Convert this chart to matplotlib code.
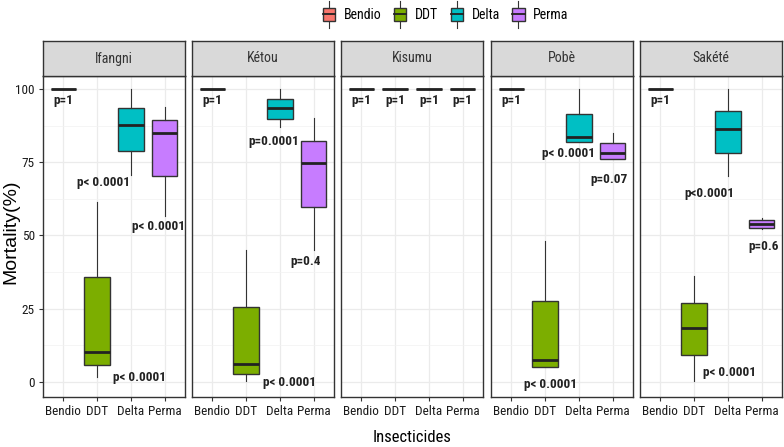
import numpy as np
import matplotlib.pyplot as plt
from matplotlib.patches import Rectangle
from matplotlib.lines import Line2D
from matplotlib.legend_handler import HandlerBase

# data
sites = ['Ifangni', 'Kétou', 'Kisumu', 'Pobè', 'Sakété']
insecticides = ['Bendio', 'DDT', 'Delta', 'Perma']
colors = ['#F8766D', '#7CAE00', '#00BFC4', '#C77CFF']

# five-number summaries per site, order Bendio, DDT, Delta, Perma
whislo = {'Ifangni': [100, 1.8, 70.6, 56.7],
          'Kétou':   [100, 0.4, 86.9, 45.0],
          'Kisumu':  [100, 100, 100, 100],
          'Pobè':    [100, 5.0, 81.8, 76.0],
          'Sakété':  [100, 0.4, 70.4, 52.2]}
q1 = {'Ifangni': [100, 5.8, 78.9, 70.4],
      'Kétou':   [100, 2.7, 89.8, 59.6],
      'Kisumu':  [100, 100, 100, 100],
      'Pobè':    [100, 5.2, 81.8, 76.0],
      'Sakété':  [100, 9.1, 78.0, 52.6]}
med = {'Ifangni': [100, 10.2, 87.7, 84.9],
       'Kétou':   [100, 6.0, 93.4, 74.8],
       'Kisumu':  [100, 100, 100, 100],
       'Pobè':    [100, 7.5, 83.7, 78.3],
       'Sakété':  [100, 18.3, 86.3, 53.9]}
q3 = {'Ifangni': [100, 35.9, 93.6, 89.4],
      'Kétou':   [100, 25.5, 96.6, 82.1],
      'Kisumu':  [100, 100, 100, 100],
      'Pobè':    [100, 27.7, 91.3, 81.4],
      'Sakété':  [100, 27.1, 92.6, 55.3]}
whishi = {'Ifangni': [100, 61.4, 100, 93.8],
          'Kétou':   [100, 45.0, 100, 90.0],
          'Kisumu':  [100, 100, 100, 100],
          'Pobè':    [100, 48.1, 100, 84.9],
          'Sakété':  [100, 36.2, 100, 56.0]}

p_labels = {'Ifangni': ['p=1', 'p< 0.0001', 'p< 0.0001', 'p< 0.0001'],
            'Kétou':   ['p=1', 'p< 0.0001', 'p=0.0001', 'p=0.4'],
            'Kisumu':  ['p=1', 'p=1', 'p=1', 'p=1'],
            'Pobè':    ['p=1', 'p< 0.0001', 'p< 0.0001', 'p=0.07'],
            'Sakété':  ['p=1', 'p< 0.0001', 'p<0.0001', 'p=0.6']}

yticks = [0, 25, 50, 75, 100]

# where each p label sits (x in category units, y in data units)
label_x = {'Ifangni': [1.0, 3.24, 2.2, 3.83],
           'Kétou':   [1.0, 3.28, 2.83, 3.77],
           'Kisumu':  [1.0, 2.0, 3.0, 4.0],
           'Pobè':    [1.0, 2.15, 2.69, 3.9],
           'Sakété':  [1.0, 3.04, 2.46, 4.05]}
label_y = {'Ifangni': [96, 1.7, 68, 53.2],
           'Kétou':   [96, -0.3, 82, 41],
           'Kisumu':  [96, 96, 96, 96],
           'Pobè':    [96, -1, 77.8, 69],
           'Sakété':  [96, 3.2, 64.4, 46.4]}

narrow = ['Roboto Condensed', 'DejaVu Sans']
dark = '#333333'

W, H = 784, 447
fig = plt.figure(figsize=(W / 100, H / 100), dpi=100)

panel_left = [43, 192, 341, 491, 640]
panel_w = 142
top, bottom, strip_h = 76, 397, 35

for k, site in enumerate(sites):
    ax = fig.add_axes([panel_left[k] / W, (H - bottom) / H,
                       panel_w / W, (bottom - top) / H])
    stats = []
    for i in range(4):
        stats.append({'whislo': whislo[site][i], 'q1': q1[site][i],
                      'med': med[site][i], 'q3': q3[site][i],
                      'whishi': whishi[site][i]})
    bp = ax.bxp(stats, positions=np.arange(1, 5), widths=0.75,
                patch_artist=True, showfliers=False, showcaps=False,
                boxprops=dict(edgecolor=dark, linewidth=1.0),
                whiskerprops=dict(color=dark, linewidth=0.8),
                medianprops=dict(color='#222222', linewidth=2.0,
                                 solid_capstyle='butt'))
    for patch, c in zip(bp['boxes'], colors):
        patch.set_facecolor(c)

    for i in range(4):
        ax.text(label_x[site][i], label_y[site][i], p_labels[site][i],
                ha='center', va='center', fontsize=9.5, fontweight='bold',
                family=narrow, color='#222222')

    ax.set_xlim(0.4, 4.6)
    ax.set_ylim(-5.1, 104.4)
    ax.set_xticks(np.arange(1, 5))
    ax.set_xticklabels(insecticides, family=narrow, fontsize=9.5,
                       color='#1A1A1A')
    ax.set_yticks(yticks)
    ax.set_yticks([12.5, 37.5, 62.5, 87.5], minor=True)
    if k == 0:
        ax.set_yticklabels([str(t) for t in yticks], family=narrow,
                           fontsize=9.5, color='#1A1A1A')
    else:
        ax.set_yticklabels([])
    ax.tick_params(axis='both', which='major', color=dark, length=3,
                   width=0.8, pad=3)
    ax.tick_params(axis='y', which='minor', length=0)
    if k != 0:
        ax.tick_params(axis='y', which='major', length=0)
    ax.grid(True, which='major', color='#EBEBEB', linewidth=0.9)
    ax.grid(True, which='minor', axis='y', color='#F2F2F2', linewidth=0.5)
    ax.set_axisbelow(True)
    for s in ax.spines.values():
        s.set_color(dark)
        s.set_linewidth(1.0)

    # facet strip
    sax = fig.add_axes([panel_left[k] / W, (H - top) / H,
                        panel_w / W, strip_h / H])
    sax.set_facecolor('#D9D9D9')
    sax.set_xticks([])
    sax.set_yticks([])
    for s in sax.spines.values():
        s.set_color(dark)
        s.set_linewidth(1.0)
    sax.text(0.5, 0.5, site, ha='center', va='center', fontsize=10,
             family=narrow, color='#333333', transform=sax.transAxes)

fig.text((43 + 782) / 2 / W, 1 - 437 / H, 'Insecticides', ha='center',
         va='center', fontsize=12, family=narrow)
fig.text(11 / W, 1 - 232 / H, 'Mortality(%)', ha='center', va='center',
         rotation=90, fontsize=14, family=['Liberation Sans', 'DejaVu Sans'])


class BoxKey(HandlerBase):
    def create_artists(self, legend, orig, xd, yd, width, height, fontsize, trans):
        bw = width * 0.8
        x0 = (width - bw) / 2 - xd
        cx = x0 + bw / 2
        bh = height * 1.0
        y0 = -yd + (height - bh) / 2
        whisk = Line2D([cx, cx], [y0 - height * 0.5, y0 + bh + height * 0.5],
                       color=dark, lw=0.8, transform=trans)
        box = Rectangle((x0, y0), bw, bh, facecolor=orig.get_facecolor(),
                        edgecolor=dark, lw=1.0, transform=trans)
        mline = Line2D([x0, x0 + bw], [y0 + bh / 2] * 2, color='#222222',
                       lw=1.3, transform=trans)
        return [whisk, box, mline]


handles = [Rectangle((0, 0), 1, 1, facecolor=c) for c in colors]
fig.legend(handles, insecticides, loc='center',
           bbox_to_anchor=(445 / W, 1 - 15 / H), ncol=4, frameon=False,
           handler_map={Rectangle: BoxKey()}, handlelength=1.1,
           handleheight=1.1, handletextpad=0.5, columnspacing=0.8,
           prop={'family': narrow, 'size': 10})

fig.savefig('out.png', dpi=100)
